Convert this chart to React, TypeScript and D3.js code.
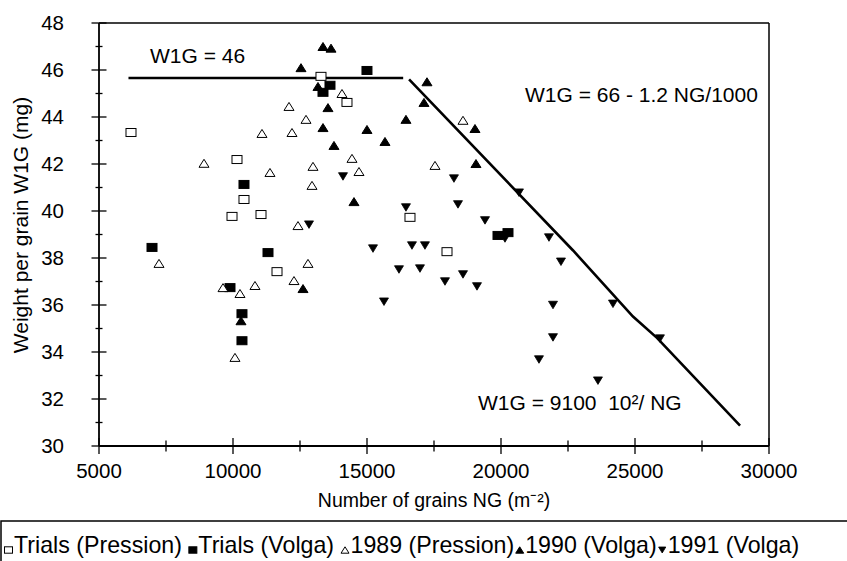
import React from "react";
import * as d3 from "d3";

// ---- Data (NG in grains/m², W1G in mg) ----
const trialsPressionNG = [6194, 10149, 10410, 9963, 11045, 11642, 13283, 14253, 16604, 17985];
const trialsPressionW = [43.34, 42.19, 40.49, 39.77, 39.85, 37.42, 45.73, 44.62, 39.73, 38.27];

const trialsVolgaNG = [6978, 10410, 11306, 9888, 10335, 10335, 13619, 13358, 14999, 19888, 20261];
const trialsVolgaW = [38.45, 41.13, 38.23, 36.74, 35.63, 34.48, 45.35, 45.05, 45.98, 38.96, 39.08];

const y1989NG = [7239, 8918, 11082, 12090, 12201, 11380, 9627, 10261, 10820, 10074, 12276, 12798, 12425, 12948, 12985, 12724, 14067, 14440, 14701, 17537, 18582];
const y1989W = [37.77, 42.03, 43.3, 44.45, 43.34, 41.64, 36.74, 36.49, 36.83, 33.77, 37.04, 37.77, 39.38, 41.09, 41.9, 43.9, 45.0, 42.24, 41.68, 41.94, 43.86];

const y1990NG = [10298, 12612, 13358, 13657, 12537, 13171, 13544, 13358, 14999, 16454, 17238, 17126, 19029, 13768, 15671, 19066, 14514];
const y1990W = [35.33, 36.7, 47.0, 46.93, 46.1, 45.3, 44.4, 43.55, 43.47, 43.9, 45.5, 44.62, 43.51, 42.79, 42.96, 42.02, 40.4];

const y1991NG = [12836, 14104, 18245, 16454, 18395, 15224, 16678, 17163, 16193, 16977, 17910, 18582, 19104, 15634, 19403, 20671, 20149, 21790, 22238, 21940, 24178, 21940, 21417, 23618, 25931];
const y1991W = [39.42, 41.47, 41.38, 40.15, 40.28, 38.4, 38.53, 38.53, 37.51, 37.55, 37.0, 37.3, 36.79, 36.14, 39.6, 40.78, 38.83, 38.87, 37.84, 36.0, 36.05, 34.62, 33.68, 32.78, 34.57];

// Envelope lines
const plateauNG = [6100, 16350];
const plateauW = [45.66, 45.66];
const declineNG = [16570, 22690, 24925, 25820, 28920];
const declineW = [45.6, 38.32, 35.51, 34.6, 30.87];

const xTicks = [5000, 10000, 15000, 20000, 25000, 30000];
const yTicks = [30, 32, 34, 36, 38, 40, 42, 44, 46, 48];

const legendLabels = ["Trials (Pression)", "Trials (Volga)", "1989 (Pression)", "1990 (Volga)", "1991 (Volga)"];

const FONT = "'Liberation Sans', Arial, Helvetica, sans-serif";

type Kind = "sqOpen" | "sqFill" | "triOpen" | "triFill" | "triDown";

function Marker({ kind, x, y, s = 1 }: { kind: Kind; x: number; y: number; s?: number }) {
  if (kind === "sqOpen" || kind === "sqFill") {
    const w = 10 * s, h = 8 * s;
    return (
      <rect x={x - w / 2} y={y - h / 2} width={w} height={h}
        fill={kind === "sqFill" ? "#000" : "#fff"} stroke="#000" strokeWidth={1} />
    );
  }
  if (kind === "triDown") {
    const w = 9 * s, h = 7.5 * s;
    const p = `M${x - w / 2},${y - h / 2}L${x + w / 2},${y - h / 2}L${x},${y + h / 2}Z`;
    return <path d={p} fill="#000" stroke="#000" strokeWidth={0.8} />;
  }
  const w = 10 * s, h = 8 * s;
  const p = `M${x - w / 2},${y + h / 2}L${x + w / 2},${y + h / 2}L${x},${y - h / 2}Z`;
  return <path d={p} fill={kind === "triFill" ? "#000" : "#fff"} stroke="#000" strokeWidth={1} />;
}

function measure(text: string, size: number): number {
  try {
    const c = document.createElement("canvas").getContext("2d");
    if (c) {
      c.font = `${size}px 'Liberation Sans', Arial, sans-serif`;
      return c.measureText(text).width;
    }
  } catch (e) { /* ignore */ }
  return text.length * size * 0.5;
}

export default function App() {
  const W = 847, H = 561;
  const x = d3.scaleLinear().domain([5000, 30000]).range([99, 769]);
  const y = d3.scaleLinear().domain([30, 48]).range([446, 23]);

  const series: { ng: number[]; w: number[]; kind: Kind }[] = [
    { ng: trialsPressionNG, w: trialsPressionW, kind: "sqOpen" },
    { ng: trialsVolgaNG, w: trialsVolgaW, kind: "sqFill" },
    { ng: y1989NG, w: y1989W, kind: "triOpen" },
    { ng: y1990NG, w: y1990W, kind: "triFill" },
    { ng: y1991NG, w: y1991W, kind: "triDown" },
  ];

  const line = d3.line<[number, number]>().x(d => x(d[0])).y(d => y(d[1]));
  const plateau = line(plateauNG.map((v, i) => [v, plateauW[i]] as [number, number])) || "";
  const decline = line(declineNG.map((v, i) => [v, declineW[i]] as [number, number])) || "";

  const xMinor = d3.range(5000, 30001, 2500);
  const yMinor = d3.range(30, 48.01, 1);

  const [x0, x1] = x.range();
  const [y0, y1] = y.range();

  const legendKinds: Kind[] = ["sqOpen", "sqFill", "triOpen", "triFill", "triDown"];
  const LFS = 23.2;
  const spaceW = measure(" ", LFS);
  const legendItems: { mx: number; tx: number }[] = [];
  let cx = 4;
  legendLabels.forEach((lab, i) => {
    const mx = cx + 4.5;
    const tx = cx + 10;
    legendItems.push({ mx, tx });
    cx = tx + measure(lab, LFS) + (i < 2 ? spaceW : 1);
  });

  return (
    <svg width={W} height={H} style={{ position: "absolute", left: 0, top: 0, background: "#fff" }}
      fontFamily={FONT}>
      <rect x={0} y={0} width={W} height={H} fill="#fff" />
      {/* frame */}
      <line x1={x0} x2={x1} y1={y1} y2={y1} stroke="#000" strokeWidth={1.5} />
      <line x1={x1} x2={x1} y1={y1} y2={y0} stroke="#000" strokeWidth={1.5} />
      <line x1={x0} x2={x1} y1={y0} y2={y0} stroke="#000" strokeWidth={1.8} />
      <line x1={x0} x2={x0} y1={y1} y2={y0} stroke="#000" strokeWidth={1.8} />

      {/* y ticks */}
      {yMinor.map(v => {
        const major = Math.abs(v % 2) < 1e-6;
        const len = major ? 7.5 : 3.5;
        return <line key={"ym" + v} x1={x0 - len} x2={x0 + len} y1={y(v)} y2={y(v)} stroke="#000" strokeWidth={1.3} />;
      })}
      {yTicks.map(v => (
        <text key={"yt" + v} x={64} y={y(v)} dy="0.35em" textAnchor="end" fontSize={20.5}>{v}</text>
      ))}

      {/* x ticks */}
      {xMinor.map(v => {
        const major = v % 5000 === 0;
        const len = major ? 8 : 5.5;
        return <line key={"xm" + v} x1={x(v)} x2={x(v)} y1={y0 - len} y2={y0 + len} stroke="#000" strokeWidth={1.3} />;
      })}
      {xTicks.map(v => (
        <text key={"xt" + v} x={x(v)} y={478} textAnchor="middle" fontSize={20.5}>{v}</text>
      ))}

      {/* axis titles */}
      <text x={434} y={507} textAnchor="middle" fontSize={19.5}>Number of grains NG (m⁻²)</text>
      <text transform={`translate(28,225) rotate(-90)`} textAnchor="middle" fontSize={21}>Weight per grain W1G (mg)</text>

      {/* envelope lines */}
      <path d={plateau} fill="none" stroke="#000" strokeWidth={2.6} />
      <path d={decline} fill="none" stroke="#000" strokeWidth={2.6} />

      {/* points */}
      {series.map((s, si) =>
        s.ng.map((v, i) => <Marker key={si + "-" + i} kind={s.kind} x={x(v)} y={y(s.w[i])} />)
      )}

      {/* annotations */}
      <text x={150} y={63} fontSize={21}>W1G = 46</text>
      <text x={525} y={102} fontSize={21}>W1G = 66 - 1.2 NG/1000</text>
      <text x={478} y={410} fontSize={21} style={{ whiteSpace: "pre" }}>{"W1G = 9100  10²/ NG"}</text>

      {/* legend */}
      <rect x={1} y={521} width={W + 10} height={60} fill="none" stroke="#000" strokeWidth={1.5} />
      {legendLabels.map((lab, i) => (
        <g key={"lg" + i}>
          <Marker kind={legendKinds[i]} x={legendItems[i].mx} y={550} s={0.8} />
          <text x={legendItems[i].tx} y={553} fontSize={LFS}>{lab}</text>
        </g>
      ))}
    </svg>
  );
}
